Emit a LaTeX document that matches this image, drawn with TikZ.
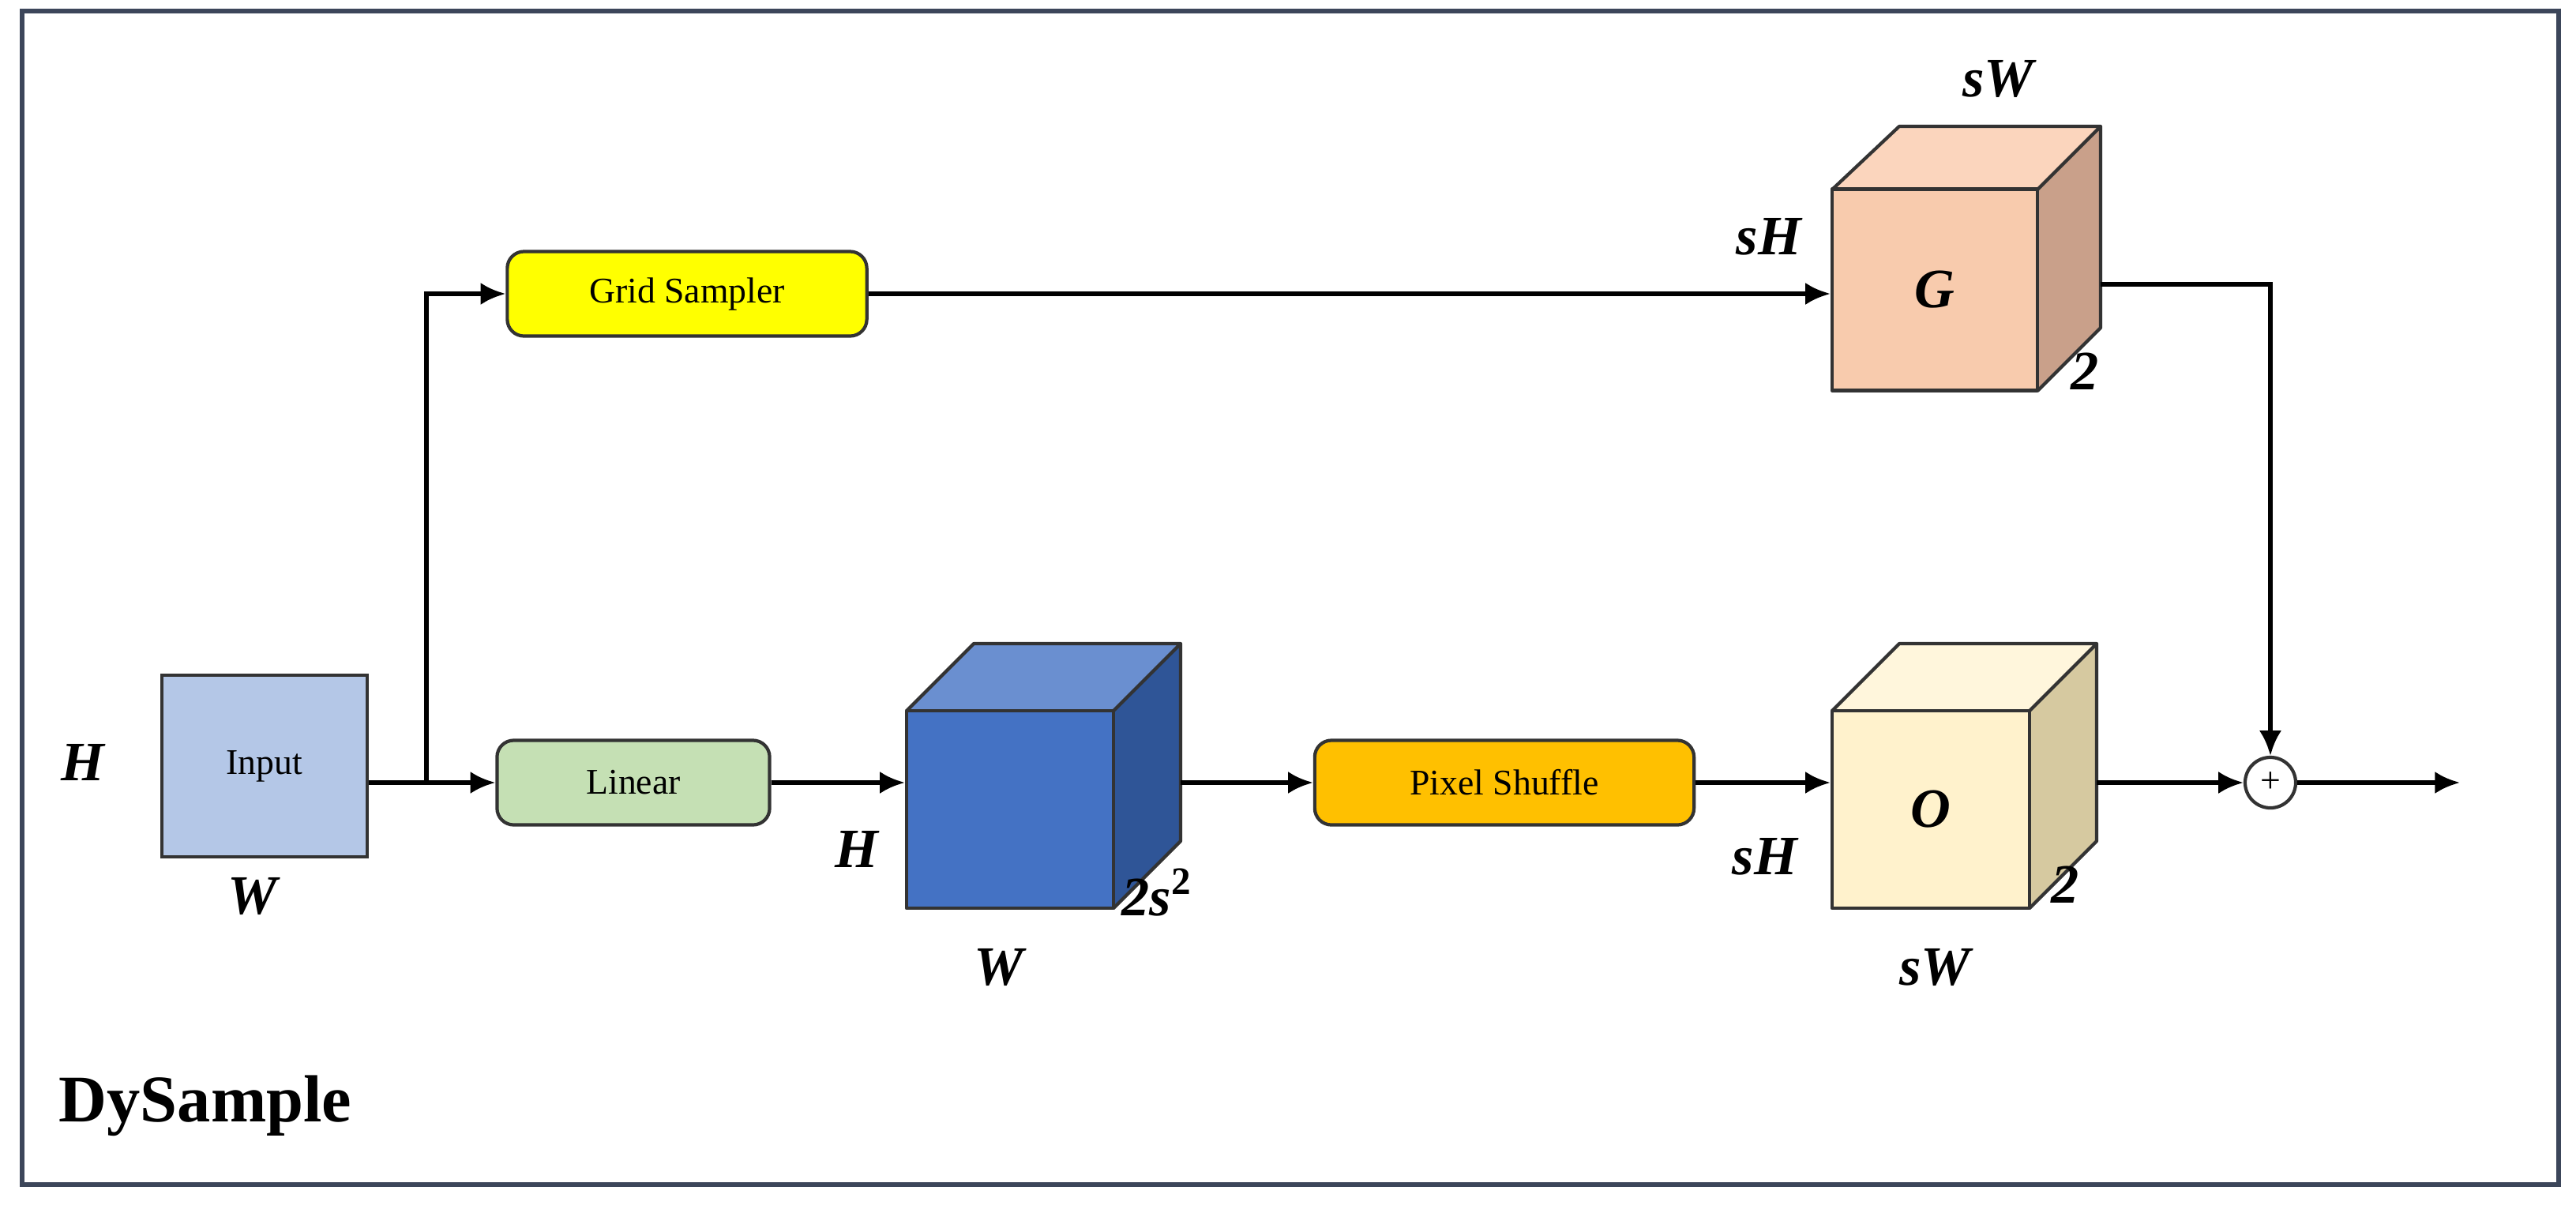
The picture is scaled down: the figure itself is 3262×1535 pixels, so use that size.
\documentclass[tikz,border=0pt]{standalone}
\usepackage{fontspec}
\setmainfont{Liberation Serif}
\usetikzlibrary{arrows.meta}
\definecolor{cin}{RGB}{180,199,231}
\definecolor{clin}{RGB}{197,224,180}
\definecolor{cgs}{RGB}{255,255,0}
\definecolor{cps}{RGB}{255,192,0}
\definecolor{bfront}{RGB}{68,114,196}
\definecolor{btop}{RGB}{106,143,208}
\definecolor{bside}{RGB}{47,85,151}
\definecolor{ofront}{RGB}{255,242,204}
\definecolor{otop}{RGB}{255,246,220}
\definecolor{oside}{RGB}{214,201,160}
\definecolor{gfront}{RGB}{248,203,173}
\definecolor{gtop}{RGB}{251,213,189}
\definecolor{gside}{RGB}{201,160,138}
\definecolor{frame}{RGB}{60,70,90}
\begin{document}
\begin{tikzpicture}[x=0.01cm,y=-0.01cm,
  box/.style={draw=black!80,line width=1.2pt,rounded corners=6pt,minimum height=1.07cm,font=\fontsize{13}{15}\selectfont},
  arr/.style={line width=1.6pt,-{Latex[length=9pt,width=8pt]}},
  dim/.style={font=\fontsize{20}{22}\selectfont\bfseries\itshape},
  edge/.style={draw=black!80,line width=1.2pt,line join=round}]
\useasboundingbox (0,0) rectangle (3262,1535);
\draw[draw=frame,line width=1.5pt] (28,14) rectangle (3240,1500);
% input
\node[draw=black!80,line width=1.2pt,fill=cin,minimum width=2.6cm,minimum height=2.3cm,font=\fontsize{13}{15}\selectfont] (in) at (335,970) {Input};
\node[dim] (inH) at (105,965) {H};
\node[dim] (inW) at (320,1135) {W};
% boxes
\node[box,fill=clin,minimum width=3.45cm] (lin) at (802,991) {Linear};
\node[box,fill=cgs,minimum width=4.55cm] (gs) at (870,372) {Grid Sampler};
\node[box,fill=cps,minimum width=4.8cm] (ps) at (1905,991) {Pixel Shuffle};
% blue cube
\fill[btop] (1148,900)--(1233,815)--(1495,815)--(1410,900)--cycle;
\fill[bside] (1410,900)--(1495,815)--(1495,1065)--(1410,1150)--cycle;
\node[edge,fill=bfront,minimum width=2.62cm,minimum height=2.5cm,inner sep=0] (bc) at (1279,1025) {};
\draw[edge] (1148,900)--(1233,815)--(1495,815)--(1495,1065)--(1410,1150) (1410,900)--(1495,815);
\coordinate (bcr) at (1495,991);
\node[dim] at (1085,1075) {H};
\node[dim] at (1265,1225) {W};
\node[dim] at (1465,1130) {2s$^{\mathbf 2}$};
% O cube
\fill[otop] (2320,900)--(2405,815)--(2655,815)--(2570,900)--cycle;
\fill[oside] (2570,900)--(2655,815)--(2655,1065)--(2570,1150)--cycle;
\node[edge,fill=ofront,minimum width=2.5cm,minimum height=2.5cm,inner sep=0,dim] (oc) at (2445,1025) {O};
\draw[edge] (2320,900)--(2405,815)--(2655,815)--(2655,1065)--(2570,1150) (2570,900)--(2655,815);
\coordinate (ocr) at (2655,991);
\node[dim] at (2235,1085) {sH};
\node[dim] at (2450,1225) {sW};
\node[dim] at (2615,1120) {2};
% G cube
\fill[gtop] (2320,240)--(2405,160)--(2660,160)--(2580,240)--cycle;
\fill[gside] (2580,240)--(2660,160)--(2660,415)--(2580,495)--cycle;
\node[edge,fill=gfront,minimum width=2.6cm,minimum height=2.55cm,inner sep=0,dim] (gc) at (2450,367) {G};
\draw[edge] (2320,240)--(2405,160)--(2660,160)--(2660,415)--(2580,495) (2580,240)--(2660,160);
\coordinate (gcr) at (2660,360);
\node[dim] at (2530,100) {sW};
\node[dim] at (2240,300) {sH};
\node[dim] at (2640,470) {2};
% sum
\node[draw=black!80,line width=1.2pt,circle,minimum size=0.64cm,inner sep=0,font=\fontsize{13}{15}\selectfont] (sum) at (2875,991) {+};
\coordinate (out) at (3115,991);
\coordinate (br) at (540,991);
% arrows
\draw[arr] (in.east|-lin) -- (lin.west);
\draw[arr] (br) |- (gs.west);
\draw[arr] (lin.east) -- (bc.west|-lin);
\draw[arr] (bcr) -- (ps.west);
\draw[arr] (ps.east) -- (oc.west|-ps);
\draw[arr] (ocr) -- (sum.west);
\draw[arr] (sum.east) -- (out);
\draw[arr] (gs.east) -- (gc.west|-gs);
\draw[arr] (gcr) -| (sum.north);
\node[font=\fontsize{24}{26}\selectfont\bfseries] (ds) at (260,1400) {DySample};
\end{tikzpicture}
\end{document}
